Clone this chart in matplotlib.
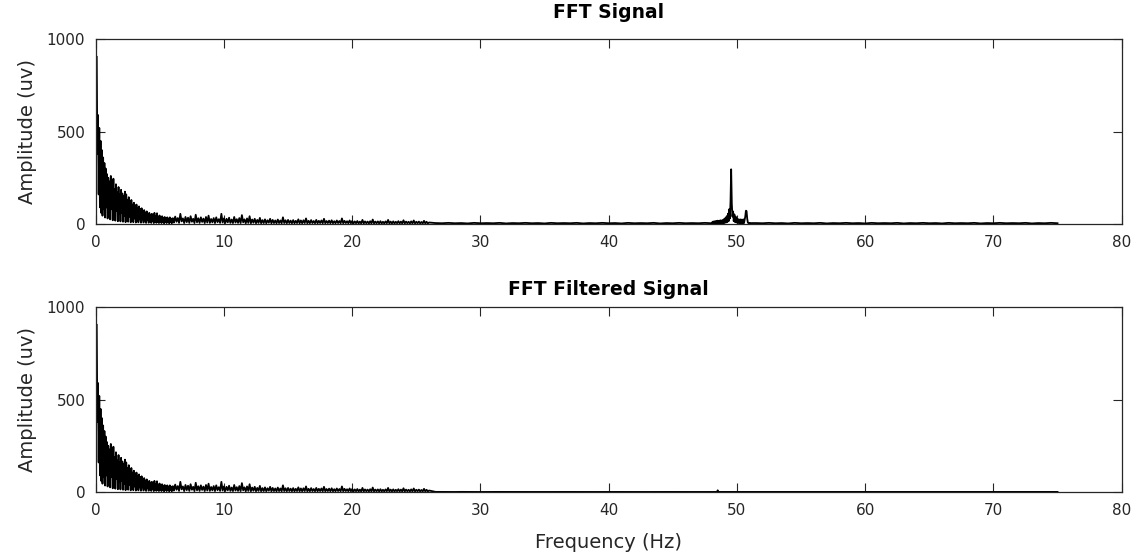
import numpy as np
import matplotlib
matplotlib.use("Agg")
import matplotlib.pyplot as plt

plt.rcParams['font.family'] = ['DejaVu Sans']

# ---------------- data ----------------
# Segment A: 0.08 .. 6.08 Hz, bin step 0.05 Hz
amp_low_a = [905, 380, 590, 160, 520, 90, 450, 60, 400, 45,
             360, 80, 330, 35, 300, 90, 270, 30, 250, 70,
             230, 25, 260, 80, 200, 20, 245, 60, 190, 18,
             215, 70, 170, 15, 200, 55, 160, 14, 185, 60,
             165, 12, 150, 45, 175, 10, 160, 50, 130, 12,
             145, 40, 120, 9, 130, 38, 105, 10, 115, 30,
             100, 8, 105, 32, 85, 9, 95, 25, 80, 7,
             85, 25, 70, 8, 75, 20, 62, 6, 68, 20,
             56, 7, 60, 16, 50, 6, 55, 17, 46, 5,
             60, 14, 42, 6, 58, 12, 40, 5, 46, 14,
             36, 5, 42, 11, 34, 4, 38, 12, 31, 5,
             36, 10, 29, 4, 36, 10, 27, 4, 31, 9,
             30]
# Segment B: 6.1 .. 26.0 Hz, bin step 0.1 Hz
amp_low_b = [8, 40, 12, 32, 6, 55, 14, 30, 5, 38,
             10, 34, 6, 42, 12, 28, 5, 50, 9, 31,
             6, 36, 11, 29, 5, 38, 8, 45, 6, 27,
             9, 32, 5, 36, 10, 26, 6, 55, 8, 30,
             5, 28, 9, 34, 6, 24, 5, 38, 8, 26,
             6, 32, 5, 48, 9, 25, 4, 30, 6, 42,
             4, 24, 7, 28, 4, 22, 6, 33, 4, 21,
             5, 25, 4, 20, 7, 28, 4, 22, 5, 19,
             4, 24, 5, 19, 4, 36, 5, 20, 4, 22,
             5, 18, 4, 21, 4, 17, 5, 25, 4, 19,
             4, 20, 5, 30, 4, 17, 4, 21, 5, 16,
             4, 22, 4, 17, 5, 19, 4, 28, 4, 16,
             5, 18, 4, 20, 4, 15, 4, 19, 5, 16,
             4, 30, 4, 17, 5, 15, 4, 19, 4, 16,
             3, 14, 4, 16, 3, 13, 3, 22, 3, 14,
             4, 13, 3, 15, 3, 24, 3, 13, 4, 14,
             3, 15, 3, 12, 3, 14, 4, 22, 3, 13,
             3, 14, 3, 12, 4, 15, 3, 13, 3, 20,
             3, 13, 4, 12, 3, 14, 3, 19, 3, 12,
             4, 13, 3, 11, 3, 17, 3, 12, 3, 8]

# Raw signal, 26.5 .. 48.0 Hz, step 0.5 Hz
amp_raw_c = [5, 4, 6, 4, 5, 3, 6, 4, 5, 4,
             6, 3, 5, 4, 6, 4, 5, 3, 6, 4,
             5, 4, 6, 3, 5, 4, 6, 4, 5, 3,
             6, 4, 5, 4, 6, 3, 5, 4, 6, 4,
             5, 4, 6, 4]
# Raw signal, 48.05 .. 51.20 Hz, step 0.05 Hz (mains peak)
amp_raw_d = [3, 12, 3, 14, 4, 15, 3, 16, 4, 18,
             3, 17, 4, 20, 3, 19, 5, 22, 4, 27,
             6, 33, 8, 42, 10, 56, 15, 80, 30, 120,
             296, 110, 40, 68, 15, 52, 10, 40, 8, 30,
             6, 26, 5, 24, 4, 25, 5, 23, 4, 25,
             5, 24, 40, 72, 70, 30, 8, 5, 4, 6,
             4, 5, 4, 5]
# Raw signal, 51.5 .. 75.0 Hz, step 0.5 Hz
amp_raw_e = [5, 4, 6, 4, 5, 3, 6, 4, 5, 4,
             6, 3, 5, 4, 6, 4, 5, 3, 6, 4,
             5, 4, 6, 3, 5, 4, 6, 4, 5, 3,
             6, 4, 5, 4, 6, 3, 5, 4, 6, 4,
             5, 4, 6, 3, 5, 4, 6, 4]
# Filtered signal, 26.5 .. 48.0 Hz, step 0.5 Hz
amp_filt_c = [0.6, 0.3, 0.5, 0.2, 0.6, 0.3, 0.5, 0.2, 0.4, 0.3,
              0.5, 0.2, 0.4, 0.3, 0.5, 0.2, 0.4, 0.3, 0.5, 0.2,
              0.4, 0.3, 0.5, 0.2, 0.4, 0.3, 0.5, 0.2, 0.4, 0.3,
              0.5, 0.2, 0.4, 0.3, 0.5, 0.2, 0.4, 0.3, 0.5, 0.2,
              0.4, 0.3, 0.5, 0.3]
# Filtered signal, 48.45 .. 48.55 Hz, step 0.05 Hz (small residual spike)
amp_filt_d = [0.4, 9.0, 0.4]
# Filtered signal, 49.0 .. 75.0 Hz, step 0.5 Hz
amp_filt_e = [0.4, 0.3, 0.5, 0.2, 0.4, 0.3, 0.5, 0.2, 0.4, 0.3,
              0.5, 0.2, 0.4, 0.3, 0.5, 0.2, 0.4, 0.3, 0.5, 0.2,
              0.4, 0.3, 0.5, 0.2, 0.4, 0.3, 0.5, 0.2, 0.4, 0.3,
              0.5, 0.2, 0.4, 0.3, 0.5, 0.2, 0.4, 0.3, 0.5, 0.2,
              0.4, 0.3, 0.5, 0.2, 0.4, 0.3, 0.5, 0.2, 0.4, 0.3,
              0.5, 0.2, 0.4]

x_ticks = [0, 10, 20, 30, 40, 50, 60, 70, 80]
y_ticks = [0, 500, 1000]
titles = ["FFT Signal", "FFT Filtered Signal"]
y_label = "Amplitude (uv)"
x_label = "Frequency (Hz)"


def bins(start, step, values):
    return start + step * np.arange(len(values))


f_a = bins(0.08, 0.05, amp_low_a)
f_b = bins(6.1, 0.1, amp_low_b)
f_c = bins(26.5, 0.5, amp_raw_c)
f_d = bins(48.05, 0.05, amp_raw_d)
f_e = bins(51.5, 0.5, amp_raw_e)
f_fc = bins(26.5, 0.5, amp_filt_c)
f_fd = bins(48.45, 0.05, amp_filt_d)
f_fe = bins(49.0, 0.5, amp_filt_e)

freq_raw = np.concatenate([f_a, f_b, f_c, f_d, f_e])
amp_raw = np.concatenate([amp_low_a, amp_low_b, amp_raw_c, amp_raw_d, amp_raw_e])
freq_filt = np.concatenate([f_a, f_b, f_fc, f_fd, f_fe])
amp_filt = np.concatenate([amp_low_a, amp_low_b, amp_filt_c, amp_filt_d, amp_filt_e])

# ---------------- figure ----------------
fig = plt.figure(figsize=(11.42, 5.58), dpi=100)
ax_col = '#262626'
left, width, height = 0.0838, 0.8984, 0.331
ax1 = fig.add_axes([left, 0.5986, width, height])
ax2 = fig.add_axes([left, 0.1183, width, height])

for ax, fx, ay in [(ax1, freq_raw, amp_raw), (ax2, freq_filt, amp_filt)]:
    ax.plot(fx, ay, color='black', linewidth=1.3)
    ax.set_xlim(0, 80)
    ax.set_ylim(0, 1000)
    ax.set_xticks(x_ticks)
    ax.set_yticks(y_ticks)
    ax.tick_params(direction='in', length=6.5, width=0.8, colors=ax_col,
                   labelsize=11, top=True, right=True)
    ax.tick_params(axis='x', pad=8)
    ax.tick_params(axis='y', pad=7.5)
    for sp in ax.spines.values():
        sp.set_color(ax_col)
        sp.set_linewidth(0.9)
    ax.set_ylabel(y_label, fontsize=14, color=ax_col, labelpad=7)

ax1.set_title(titles[0], fontsize=13.5, fontweight='bold', color='black', pad=15)
ax2.set_title(titles[1], fontsize=13.5, fontweight='bold', color='black', pad=9)
ax2.set_xlabel(x_label, fontsize=14, color=ax_col, labelpad=11)

fig.savefig("out.png", dpi=100)
